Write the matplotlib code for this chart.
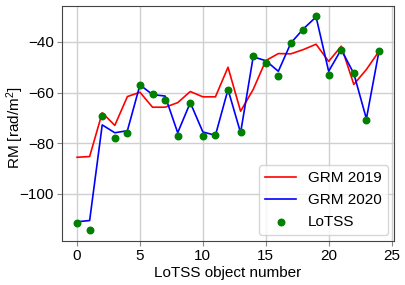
import matplotlib
matplotlib.use("Agg")
import matplotlib.pyplot as plt
import numpy as np

plt.rcParams['font.family'] = ['Liberation Sans', 'DejaVu Sans']
plt.rcParams['mathtext.fontset'] = 'custom'
plt.rcParams['mathtext.rm'] = 'Liberation Sans'
plt.rcParams['mathtext.it'] = 'Liberation Sans:italic'

obj = list(range(25))
grm2019 = [-85.6, -85.3, -68.0, -73.0, -61.6, -59.9, -65.8, -65.8, -64.0, -59.6,
           -61.7, -61.7, -50.0, -67.4, -58.8, -47.4, -44.6, -44.7, -43.0, -40.9,
           -47.7, -41.7, -56.8, -50.9, -43.7]
grm2020 = [-111.1, -110.6, -72.8, -75.9, -75.1, -57.0, -60.8, -61.4, -75.9, -64.0,
           -75.6, -76.9, -58.8, -75.9, -45.9, -47.4, -51.6, -40.4, -34.8, -30.1,
           -51.6, -43.0, -52.5, -70.4, -43.7]
lotss = [-111.4, -114.4, -69.1, -77.8, -76.0, -57.2, -60.4, -62.8, -77.0, -64.3,
         -77.0, -76.8, -59.1, -75.8, -45.7, -48.5, -53.3, -40.3, -35.1, -29.9,
         -53.0, -43.0, -52.2, -70.7, -43.7]

fig = plt.figure(figsize=(4.05, 2.85), dpi=100)
ax = fig.add_axes([0.153, 0.155, 0.82, 0.825])
ax.plot(obj, grm2019, color='red', lw=1.2, label='GRM 2019', zorder=2)
ax.plot(obj, grm2020, color='blue', lw=1.2, label='GRM 2020', zorder=3)
ax.scatter(obj, lotss, color='green', s=22, label='LoTSS', zorder=4)
ax.grid(True, color='#d0d0d0', lw=1.0)
ax.set_axisbelow(True)
ax.set_xticks([0, 5, 10, 15, 20, 25])
ax.set_yticks([-100, -80, -60, -40])
ax.tick_params(labelsize=11, color='#888888', pad=2.5)
ax.set_xlabel('LoTSS object number', fontsize=11)
ax.set_ylabel('RM [rad/m$^2$]', fontsize=11)
ax.yaxis.set_label_coords(-0.108, 0.48)
ax.xaxis.set_label_coords(0.5, -0.108)
for s in ax.spines.values():
    s.set_color('#444444')
ax.legend(loc='lower right', fontsize=11, borderaxespad=0.4)
fig.savefig('out.png', dpi=100)
